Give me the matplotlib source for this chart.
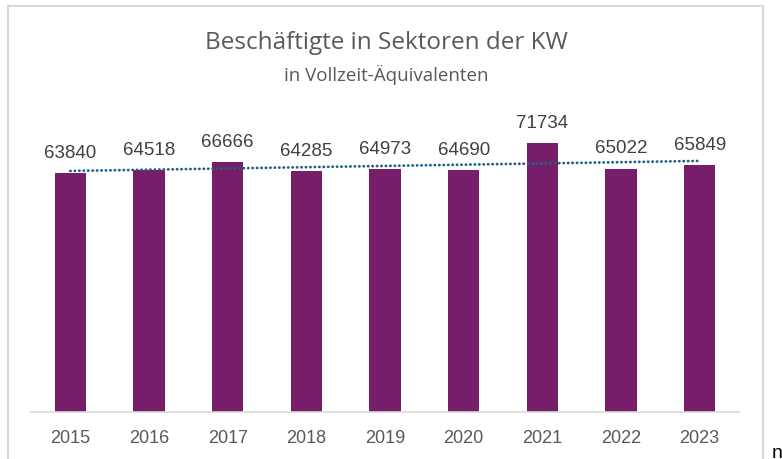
import numpy as np
import matplotlib.pyplot as plt
from matplotlib.patches import Rectangle

years = ["2015", "2016", "2017", "2018", "2019", "2020", "2021", "2022", "2023"]
employees = [63840, 64518, 66666, 64285, 64973, 64690, 71734, 65022, 65849]

W, H = 782, 459
fig = plt.figure(figsize=(W / 100, H / 100), dpi=100)

# chart frame (bottom edge runs off the picture)
fig.patches.append(Rectangle((8 / W, -0.05), 755 / W, 1.05 - 6 / H,
                             transform=fig.transFigure, fill=False,
                             edgecolor="#D9D9D9", linewidth=1.5))

ax = fig.add_axes([31 / W, 47 / H, 708 / W, 299.5 / H])
x = np.arange(len(years))
ax.bar(x, employees, width=0.4, color="#771E6B")

# linear trendline
k, d = np.polyfit(x, employees, 1)
ax.plot(x, k * x + d, linestyle=(0, (0.1, 1.5)), color="#1F6286", linewidth=2,
        dash_capstyle="round")

for xi, v in zip(x, employees):
    ax.annotate(str(v), (xi, v), xytext=(0, 8), textcoords="offset points",
                ha="center", va="bottom", fontsize=13.5, color="#404040",
                family="Liberation Sans")

ax.set_xlim(-0.5, len(years) - 0.5)
ax.set_ylim(0, 80000)
ax.set_xticks(x)
ax.set_xticklabels(years, fontsize=13, color="#595959", family="Liberation Sans")
ax.tick_params(axis="x", length=0, pad=13)
ax.set_yticks([])
for s in ["top", "right", "left"]:
    ax.spines[s].set_visible(False)
ax.spines["bottom"].set_color("#D9D9D9")
ax.spines["bottom"].set_linewidth(1.2)

fig.text(386 / W, 1 - 43 / H, "Beschäftigte in Sektoren der KW", ha="center",
         va="center", fontsize=17.5, color="#595959", family="Open Sans")
fig.text(386 / W, 1 - 75 / H, "in Vollzeit-Äquivalenten", ha="center",
         va="center", fontsize=13.5, color="#595959", family="Open Sans")
fig.text(772 / W, 1 - 454 / H, "n", ha="left", va="center", fontsize=14,
         color="black", family="Liberation Sans")

fig.savefig("out.png", dpi=100)
